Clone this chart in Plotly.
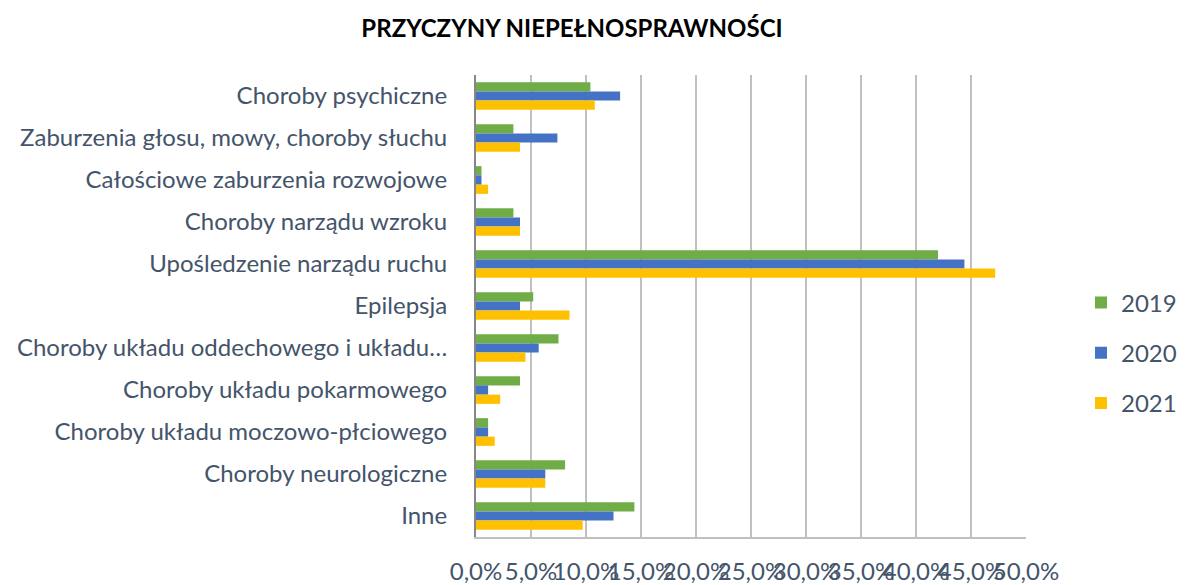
import plotly.graph_objects as go

categories = [
    "Choroby psychiczne",
    "Zaburzenia głosu, mowy, choroby słuchu",
    "Całościowe zaburzenia rozwojowe",
    "Choroby narządu wzroku",
    "Upośledzenie narządu ruchu",
    "Epilepsja",
    "Choroby układu oddechowego i układu…",
    "Choroby układu pokarmowego",
    "Choroby układu moczowo-płciowego",
    "Choroby neurologiczne",
    "Inne",
]
v2019 = [10.4, 3.4, 0.5, 3.4, 42.0, 5.2, 7.5, 4.0, 1.1, 8.1, 14.4]
v2020 = [13.1, 7.4, 0.5, 4.0, 44.4, 4.0, 5.7, 1.1, 1.1, 6.3, 12.5]
v2021 = [10.8, 4.0, 1.1, 4.0, 47.2, 8.5, 4.5, 2.2, 1.7, 6.3, 9.7]
series = [("2019", v2019, "#70AD47"), ("2020", v2020, "#4472C4"), ("2021", v2021, "#FFC000")]
tick_vals = [0, 5, 10, 15, 20, 25, 30, 35, 40, 45, 50]
tick_text = ["0,0%", "5,0%", "10,0%", "15,0%", "20,0%", "25,0%", "30,0%", "35,0%", "40,0%", "45,0%", "50,0%"]

TXT = "#44546A"
FONT = "Lato, 'Open Sans', sans-serif"

# the page body has an 8px margin, so the figure is sized/offset to compensate
W, H = 1177, 577

fig = go.Figure()
for name, vals, col in series:
    fig.add_trace(go.Bar(
        y=categories, x=vals, name=name, orientation="h",
        marker=dict(color=col, line=dict(width=0)),
        legendgroup=name,
    ))

fig.update_layout(
    width=W, height=H,
    paper_bgcolor="white", plot_bgcolor="white",
    barmode="group", bargap=0.34, bargroupgap=0,
    margin=dict(l=468, r=159, t=67, b=48, autoexpand=False),
    title=dict(text="<b>PRZYCZYNY NIEPEŁNOSPRAWNOŚCI</b>", x=564/W, xref="container",
               xanchor="center", y=1 - 21/H, yref="container", yanchor="middle",
               font=dict(family=FONT, size=24, color="black")),
    legend=dict(x=1.100, xanchor="left", y=(529-345)/462, yanchor="middle",
                traceorder="grouped", tracegroupgap=16,
                font=dict(family=FONT, size=24, color=TXT)),
    font=dict(family=FONT, color=TXT),
)
fig.update_xaxes(range=[0, 50], tickvals=tick_vals, ticktext=tick_text,
                 tickangle=0, showgrid=True, gridcolor="#C0C0C0", gridwidth=2,
                 showline=True, linecolor="#C0C0C0", linewidth=2,
                 zeroline=False, ticklabelstandoff=12, automargin=False,
                 tickfont=dict(family=FONT, size=24, color=TXT))
fig.update_yaxes(autorange="reversed", showline=True, linecolor="#868686", linewidth=2,
                 showgrid=False, ticks="", ticklabelstandoff=22, automargin=False,
                 tickfont=dict(family=FONT, size=24, color=TXT))

fig.write_html("out.html")
